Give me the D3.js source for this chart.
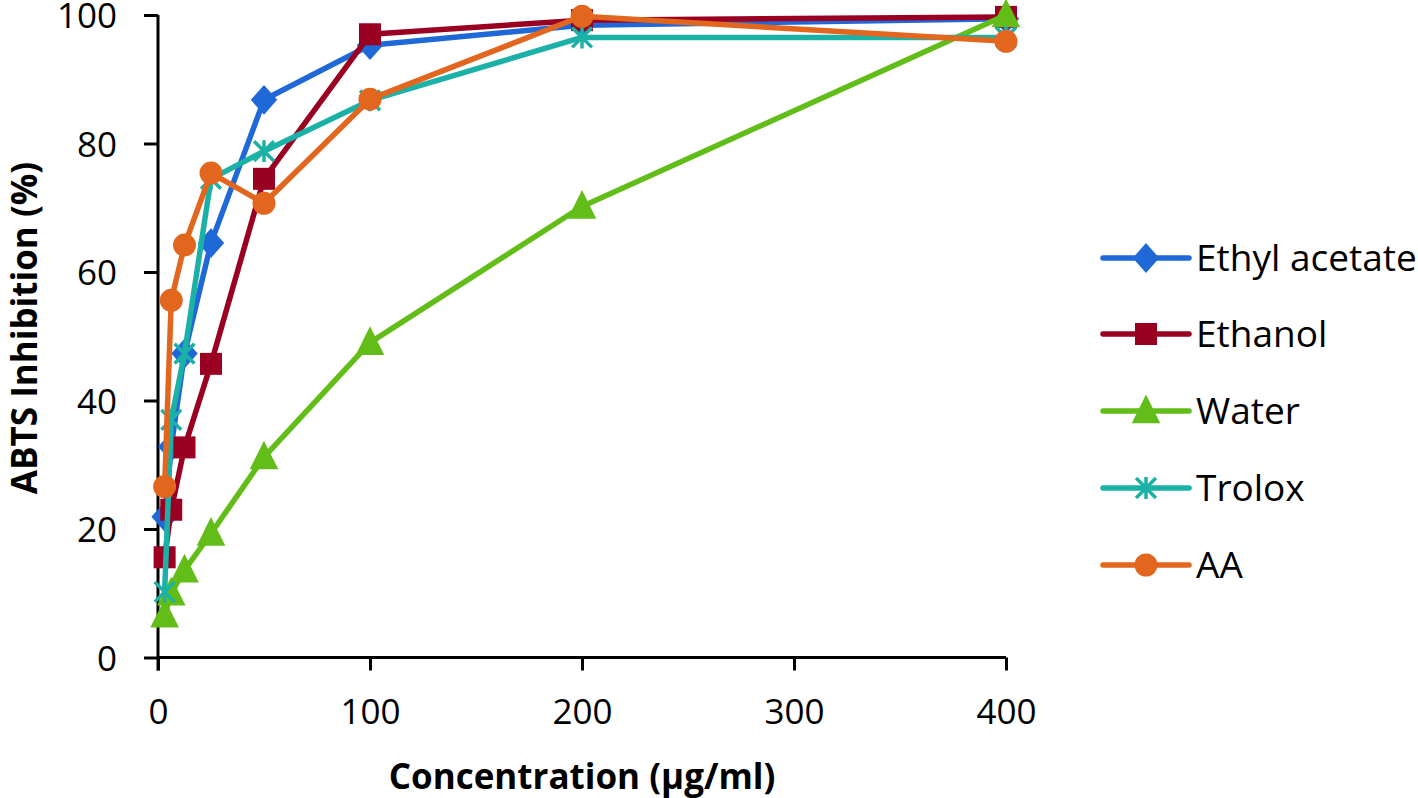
<!DOCTYPE html>
<html><head><meta charset="utf-8">
<script src="https://cdn.jsdelivr.net/npm/d3@7"></script>
<style>body{margin:0;background:#fff}svg text{font-family:"Open Sans",sans-serif}</style>
</head><body><svg id="c" width="1418" height="798"></svg>
<script>
const conc = [3.125, 6.25, 12.5, 25, 50, 100, 200, 400];
const ethylAcetate = [21.9, 32.8, 47.3, 64.5, 86.8, 95.3, 98.4, 99.4];
const ethanol = [15.6, 23.0, 32.7, 45.7, 74.5, 97.0, 99.2, 99.7];
const water = [6.6, 10.0, 13.6, 19.3, 31.2, 49.0, 70.2, 100.0];
const trolox = [10.2, 37.0, 47.3, 74.5, 78.8, 86.7, 96.5, 96.5];
const aa = [26.6, 55.6, 64.2, 75.4, 70.7, 86.9, 99.8, 95.9];
const seriesNames = ["Ethyl acetate", "Ethanol", "Water", "Trolox", "AA"];
const xTicks = [0, 100, 200, 300, 400];
const yTicks = [0, 20, 40, 60, 80, 100];

const colors = ["#1f68d8", "#9a0022", "#62bd18", "#1cb1a6", "#e2661e"];
const shapes = ["diamond", "square", "triangle", "star", "circle"];
const allSeries = [ethylAcetate, ethanol, water, trolox, aa];

const svg = d3.select("#c");
const x = d3.scaleLinear().domain([0, 400]).range([158, 1006]);
const y = d3.scaleLinear().domain([0, 100]).range([657.5, 15]);

// axes
const xAxis = svg.append("g").attr("transform", `translate(0,${y(0)})`)
  .call(d3.axisBottom(x).tickValues(xTicks).tickSize(13).tickPadding(29));
const yAxis = svg.append("g").attr("transform", `translate(${x(0)},0)`)
  .call(d3.axisLeft(y).tickValues(yTicks).tickSize(14).tickPadding(27));
[xAxis, yAxis].forEach(g => {
  g.select(".domain").attr("stroke", "#000").attr("stroke-width", 3);
  g.selectAll(".tick line").attr("stroke", "#000").attr("stroke-width", 3);
  g.selectAll(".tick text").attr("fill", "#000").style("font-size", "35px").style("font-family", "'Open Sans',sans-serif");
});
yAxis.selectAll(".tick text").attr("dy", "0.36em");
xAxis.select(".domain").attr("d", `M${x(0)},0H${x(400)}`);
yAxis.select(".domain").attr("d", `M0,${y(0)+13}V${y(100)}`);

function marker(g, shape, color, cx, cy, s) {
  if (shape === "diamond") {
    g.append("path").attr("d", `M${cx},${cy-s*0.62}L${cx+s*0.55},${cy}L${cx},${cy+s*0.62}L${cx-s*0.55},${cy}Z`).attr("fill", color);
  } else if (shape === "square") {
    g.append("rect").attr("x", cx - s*0.5).attr("y", cy - s*0.5).attr("width", s).attr("height", s).attr("fill", color);
  } else if (shape === "triangle") {
    const h = s*1.05;
    g.append("path").attr("d", `M${cx},${cy-h*0.6}L${cx+s*0.55},${cy+h*0.45}L${cx-s*0.55},${cy+h*0.45}Z`).attr("fill", color);
  } else if (shape === "circle") {
    g.append("circle").attr("cx", cx).attr("cy", cy).attr("r", s*0.5).attr("fill", color);
  } else if (shape === "star") {
    const r = s*0.45;
    const d = `M${cx-r},${cy-r}L${cx+r},${cy+r}M${cx-r},${cy+r}L${cx+r},${cy-r}M${cx},${cy-r*1.1}L${cx},${cy+r*1.1}`;
    g.append("path").attr("d", d).attr("stroke", color).attr("stroke-width", 3.5).attr("fill", "none");
  }
}

const line = d3.line().x(d => x(d[0])).y(d => y(d[1]));
const msize = [24, 22, 26, 22, 23];
allSeries.forEach((vals, i) => {
  const g = svg.append("g");
  const pts = conc.map((c, j) => [c, vals[j]]);
  g.append("path").attr("d", line(pts)).attr("fill", "none").attr("stroke", colors[i])
    .attr("stroke-width", 5.5).attr("stroke-linejoin", "round").attr("stroke-linecap", "round");
  pts.forEach(p => marker(g, shapes[i], colors[i], x(p[0]), y(p[1]), msize[i]));
});

// legend
const legY = [258, 334, 411, 488, 565];
seriesNames.forEach((n, i) => {
  const g = svg.append("g");
  g.append("line").attr("x1", 1103).attr("x2", 1189).attr("y1", legY[i]).attr("y2", legY[i])
    .attr("stroke", colors[i]).attr("stroke-width", 5.5).attr("stroke-linecap", "round");
  marker(g, shapes[i], colors[i], 1146, legY[i], msize[i]);
  g.append("text").attr("x", 1196).attr("y", legY[i]).attr("dy", "0.35em")
    .style("font-size", "37px").attr("fill", "#000").text(n);
});

// titles
svg.append("text").attr("x", 582).attr("y", 777).attr("dy", "0.35em").attr("text-anchor", "middle")
  .style("font-size", "35px").style("font-weight", "bold").text("Concentration (µg/ml)");
svg.append("text").attr("transform", `translate(25,328) rotate(-90)`).attr("dy", "0.35em").attr("text-anchor", "middle")
  .style("font-size", "35px").style("font-weight", "bold").text("ABTS Inhibition (%)");
</script></body></html>
